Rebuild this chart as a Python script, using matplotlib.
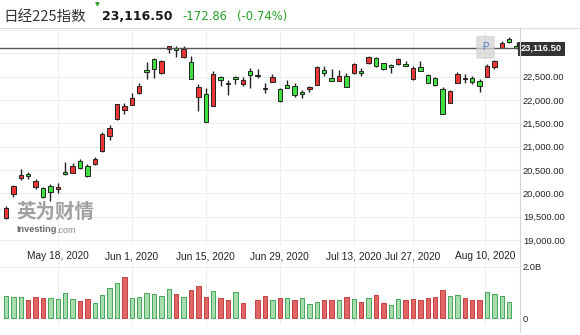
import numpy as np
import pandas as pd
import matplotlib
matplotlib.use("Agg")
import matplotlib.pyplot as plt
from matplotlib.patches import Rectangle, FancyBboxPatch
from matplotlib.lines import Line2D

# ---- data -------------------------------------------------------------
title = "日经225指数"
last_price = 23116.50
change = -172.86
change_pct = -0.74

start_date = "2020-05-07"
end_date = "2020-08-17"
market_holidays = ["2020-07-23", "2020-07-24", "2020-08-10"]

opens = [19466, 19986, 20336, 20421, 20130, 20121, 20157, 20087, 20457, 20443,
         20687, 20586, 20629, 20908, 21236, 21593, 21793, 21887, 22157, 22644,
         22873, 22573, 23100, 23108, 22922, 22821, 22059, 22129, 21879, 22494,
         22359, 22494, 22337, 22622, 22530, 22251, 22393, 22236, 22322, 22307,
         22179, 22236, 22322, 22644, 22466, 22414, 22515, 22573, 22622, 22787,
         22894, 22787, 22751, 22766, 22779, 22457, 22714, 22543, 22479, 22236,
         21930, 22359, 22444, 22466, 22414, 22487, 22714, 23108, 23301, 23165]
highs = [19729, 20179, 20516, 20464, 20301, 20143, 20194, 20216, 20665, 20644,
         20730, 20622, 20770, 21322, 21465, 21908, 21930, 22157, 22359, 22809,
         22894, 22865, 23158, 23158, 23158, 22944, 22344, 22251, 22622, 22515,
         22429, 22515, 22494, 22680, 22665, 22359, 22555, 22258, 22429, 22358,
         22222, 22308, 22737, 22737, 22665, 22651, 22572, 22787, 22680, 22951,
         22915, 22800, 22780, 22894, 22830, 22729, 22844, 22565, 22500, 22272,
         22215, 22594, 22551, 22522, 22443, 22765, 22858, 23265, 23344, 23250]
lows = [19444, 19928, 20286, 20307, 20093, 19900, 19830, 20015, 20400, 20430,
        20515, 20344, 20610, 20893, 21143, 21566, 21707, 21887, 22123, 22444,
        22479, 22560, 23014, 22922, 22900, 22457, 21771, 21523, 21879, 22301,
        22108, 22337, 22301, 22251, 22465, 22158, 22393, 21950, 22251, 22071,
        22036, 22165, 22322, 22515, 22414, 22414, 22273, 22558, 22522, 22772,
        22715, 22643, 22580, 22750, 22729, 22430, 22629, 22357, 22308, 21694,
        21930, 22359, 22359, 22345, 22180, 22487, 22665, 23108, 23230, 23100]
closes = [19680, 20164, 20393, 20372, 20271, 19928, 20022, 20130, 20421, 20580,
          20537, 20372, 20736, 21266, 21394, 21908, 21872, 22050, 22301, 22601,
          22671, 22843, 23158, 23065, 23093, 22457, 22273, 21523, 22558, 22436,
          22344, 22451, 22423, 22536, 22515, 22237, 22494, 21986, 22264, 22108,
          22129, 22286, 22701, 22586, 22414, 22515, 22273, 22772, 22573, 22929,
          22736, 22665, 22701, 22873, 22729, 22693, 22629, 22371, 22316, 21694,
          22194, 22551, 22479, 22380, 22307, 22729, 22836, 23216, 23244, 23116.5]
# volume in billions of shares (nan = not reported)
volumes = [0.86, 0.84, 0.82, 0.72, 0.84, 0.81, 0.78, 0.76, 0.99, 0.76,
           0.68, 0.76, 0.61, 0.91, 1.18, 1.38, 1.60, 0.80, 0.82, 0.99,
           0.95, 0.88, 1.14, 0.95, 0.82, 1.10, 1.24, 0.82, 1.06, 0.78,
           0.72, 1.03, 0.61, np.nan, 0.72, 0.86, 0.72, 0.78, 0.78, 0.72,
           0.78, 0.55, 0.63, 0.70, 0.70, 0.72, 0.82, 0.76, 0.65, 0.78,
           0.91, 0.61, 0.53, 0.76, 0.72, 0.76, 0.72, 0.80, 0.82, 1.11,
           0.88, 0.91, 0.78, 0.70, 0.72, 1.03, 0.95, 0.88, 0.63, np.nan]

tick_dates = ["2020-05-18", "2020-06-01", "2020-06-15", "2020-06-29",
              "2020-07-13", "2020-07-27", "2020-08-10"]
price_levels = [19000, 19500, 20000, 20500, 21000, 21500, 22000, 22500]
grid_levels = [19000, 19500, 20000, 20500, 21000, 21500, 22000, 22500, 23000, 23500]
volume_ticks = [0, 2.0]
volume_labels = ["0", "2.0B"]

# ---- derived ----------------------------------------------------------
days = pd.bdate_range(start_date, end_date)
days = days[~days.isin(pd.to_datetime(market_holidays))]
x = np.arange(len(days))
o = np.array(opens, float)
h = np.array(highs, float)
l = np.array(lows, float)
c = np.array(closes, float)
v = np.array(volumes, float)

tick_dt = pd.to_datetime(tick_dates)
tick_pos = np.interp(tick_dt.asi8, days.asi8, x)
tick_lbl = [f"{d.strftime('%b')} {d.day}, {d.year}" for d in tick_dt]

UP_BODY, DOWN_BODY = "#ee3535", "#3fdf3f"
VOL_UP_FACE, VOL_UP_EDGE = "#a6dcae", "#45a657"
VOL_DN_FACE, VOL_DN_EDGE = "#e26565", "#c44242"
GRID = "#eeeeee"
TXT = "#222222"
LATIN = "Liberation Sans"

W, H = 580, 335
fig = plt.figure(figsize=(W / 100, H / 100), dpi=100)
fig.patch.set_facecolor("white")


def fx(px):
    return px / W


def fy(py):
    return 1 - py / H


XL = (-0.81, 69.46)

# ---- price panel ------------------------------------------------------
axp = fig.add_axes([0, fy(245), fx(520), (245 - 30) / H])
axp.set_xlim(*XL)
axp.set_ylim(18893, 23501)
for s in axp.spines.values():
    s.set_visible(False)

for lv in grid_levels:
    axp.axhline(lv, color=GRID, lw=0.8, zorder=0)
for tp in tick_pos:
    axp.axvline(tp, color=GRID, lw=0.8, zorder=0)

up = c >= o
axp.vlines(x, l, h, color="#222222", lw=1.0, zorder=2)
body_h = np.maximum(np.abs(c - o), 12)
axp.bar(x, body_h, bottom=np.minimum(o, c), width=0.62,
        color=np.where(up, UP_BODY, DOWN_BODY), edgecolor="#222222",
        linewidth=0.7, zorder=3)

axp.axhline(last_price, color="#555555", lw=1.0, zorder=4)

axp.yaxis.tick_right()
axp.set_yticks(price_levels)
axp.set_yticklabels([f"{p:,.2f}" for p in price_levels],
                    fontsize=6.7, color=TXT, family=LATIN)
axp.tick_params(axis="y", length=0, pad=2)
axp.set_xticks(tick_pos)
axp.set_xticklabels(tick_lbl, fontsize=7.3, color=TXT, family=LATIN)
axp.tick_params(axis="x", length=0, pad=4.5)

# ---- volume panel -----------------------------------------------------
axv = fig.add_axes([0, fy(325), fx(520), (325 - 262) / H])
axv.set_xlim(*XL)
axv.set_ylim(-0.251, 2.18)
for s in axv.spines.values():
    s.set_visible(False)
axv.axhline(2.0, color=GRID, lw=0.8, zorder=0)
for tp in tick_pos:
    axv.axvline(tp, color=GRID, lw=0.8, zorder=0)

vol_up = np.concatenate([[True], c[1:] >= c[:-1]])
axv.bar(x, v, width=0.6,
        color=np.where(vol_up, VOL_UP_FACE, VOL_DN_FACE),
        edgecolor=np.where(vol_up, VOL_UP_EDGE, VOL_DN_EDGE),
        linewidth=0.7, zorder=2)
axv.yaxis.tick_right()
axv.set_yticks(volume_ticks)
axv.set_yticklabels(volume_labels, fontsize=6.7, color=TXT, family=LATIN)
axv.tick_params(axis="y", length=0, pad=2)
axv.set_xticks([])

# ---- frame lines ------------------------------------------------------
fig.add_artist(Line2D([0, 1], [fy(28), fy(28)], color="#dddddd", lw=0.8))
fig.add_artist(Line2D([fx(520), fx(520)], [fy(28), fy(332)], color="#d6d6d6", lw=0.8))

# ---- last price tag ---------------------------------------------------
fig.add_artist(Rectangle((fx(518), fy(55.5)), fx(47), (55.5 - 41.5) / H,
                         facecolor="#333333", edgecolor="none"))
fig.text(fx(541.5), fy(48.5), f"{last_price:,.2f}", color="white",
         fontsize=6.7, family=LATIN, fontweight="bold", ha="center", va="center")

# marker box above the latest rally
fig.add_artist(FancyBboxPatch((fx(478), fy(57.5)), fx(15), (57.5 - 37) / H,
                              boxstyle="round,pad=0.002", facecolor="#d4d4d4",
                              edgecolor="#c8c8c8", lw=0.6, alpha=0.75))
fig.text(fx(485.5), fy(47), "P", color="#4a7cc4", fontsize=7, family=LATIN,
         ha="center", va="center")

# ---- watermark --------------------------------------------------------
fig.text(fx(16), fy(212), "英为财情", fontsize=14, fontweight="bold",
         family=["Noto Sans CJK SC", "DejaVu Sans"], color="#8f8f8f",
         alpha=0.85, ha="left", va="center")
fig.text(fx(16), fy(230), "Investing", fontsize=6.6, fontweight="bold",
         family=LATIN, color="#6a6a6a", ha="left", va="center")
fig.text(fx(56), fy(230.5), ".com", fontsize=6.4, family=LATIN,
         color="#8a8a8a", ha="left", va="center")

# ---- header -----------------------------------------------------------
fig.text(fx(3), fy(16.5), title, fontsize=10.5,
         family=["Noto Sans CJK SC", "DejaVu Sans"], color="#333333",
         ha="left", va="center")
fig.text(fx(97), fy(5), "▼", fontsize=4.5, color="#22a022",
         ha="center", va="center", family="DejaVu Sans")
fig.text(fx(102), fy(16.5), f"{last_price:,.2f}", fontsize=9, fontweight="bold",
         family="DejaVu Sans", color="#1a1a1a", ha="left", va="center")
fig.text(fx(182), fy(16.5), f"{change:,.2f}", fontsize=8.4,
         family="DejaVu Sans", color="#22a022", ha="left", va="center")
fig.text(fx(237), fy(16.5), f"({change_pct:.2f}%)", fontsize=8.4,
         family="DejaVu Sans", color="#22a022", ha="left", va="center")

fig.savefig("out.png", dpi=100, facecolor="white")
